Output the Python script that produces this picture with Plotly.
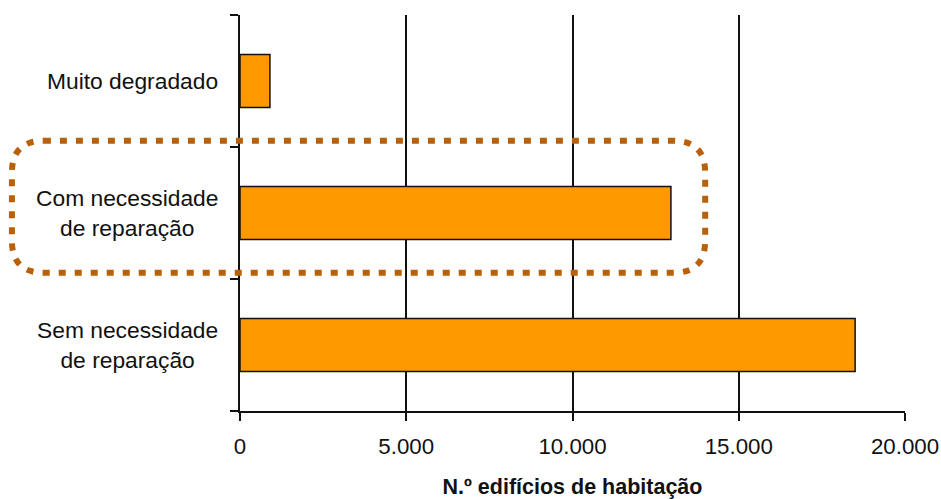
import plotly.graph_objects as go

# Condition of residential buildings (number of buildings)
categories = ["Sem necessidade<br>de reparação", "Com necessidade<br>de reparação", "Muito degradado"]
buildings = [18500, 12960, 900]
x_ticks = [0, 5000, 10000, 15000, 20000]
x_tick_labels = ["0", "5.000", "10.000", "15.000", "20.000"]

FONT = "Liberation Sans, Arial, sans-serif"
BAR = "#FF9900"
HIGHLIGHT = "#B8600A"

fig = go.Figure(
    go.Bar(
        y=categories,
        x=buildings,
        orientation="h",
        width=0.4,
        marker=dict(color=BAR, line=dict(color="#111111", width=1.5)),
        showlegend=False,
    )
)

fig.update_layout(
    width=941,
    height=499,
    margin=dict(l=240, r=36, t=15, b=88),
    paper_bgcolor="white",
    plot_bgcolor="white",
    font=dict(family=FONT, size=22, color="#111111"),
    xaxis=dict(
        range=[0, 20000],
        tickvals=x_ticks,
        ticktext=x_tick_labels,
        automargin=False,
        showgrid=True,
        gridcolor="#111111",
        gridwidth=1.5,
        zeroline=False,
        showline=True,
        linecolor="#111111",
        linewidth=1.5,
        ticks="outside",
        ticklen=8,
        tickwidth=1.5,
        tickcolor="#111111",
        ticklabelstandoff=6,
        tickfont=dict(family=FONT, size=22.3, color="#111111"),
        title=dict(
            text="N.º edifícios de habitação",
            font=dict(family=FONT, size=21.5, weight="bold"),
            standoff=26,
        ),
    ),
    yaxis=dict(
        range=[-0.5, 2.5],
        automargin=False,
        tickson="boundaries",
        showgrid=False,
        showline=True,
        linecolor="#111111",
        linewidth=1.5,
        ticks="outside",
        ticklen=8,
        tickwidth=1.5,
        tickcolor="#111111",
        showticklabels=False,
    ),
)

# Category labels, centred line by line to the left of the axis
for cat in categories:
    fig.add_annotation(
        x=0, xref="paper", xanchor="right", xshift=-20,
        y=cat, yref="y", yanchor="middle",
        text=cat, showarrow=False, align="center",
        font=dict(family=FONT, size=22.8, color="#111111"),
    )

# Dotted rounded frame around the "Com necessidade de reparação" row
x0, x1 = -0.343, 0.6995
y0, y1 = 0.349, 0.6825
rx, ry = 32 / 665, 32 / 396
path = (
    f"M {x0 + rx},{y1} L {x1 - rx},{y1} Q {x1},{y1} {x1},{y1 - ry} "
    f"L {x1},{y0 + ry} Q {x1},{y0} {x1 - rx},{y0} "
    f"L {x0 + rx},{y0} Q {x0},{y0} {x0},{y0 + ry} "
    f"L {x0},{y1 - ry} Q {x0},{y1} {x0 + rx},{y1} Z"
)
fig.add_shape(
    type="path", path=path, xref="paper", yref="paper",
    line=dict(color=HIGHLIGHT, width=6, dash="7px,9px"),
    layer="above",
)

fig.write_html("out.html")
